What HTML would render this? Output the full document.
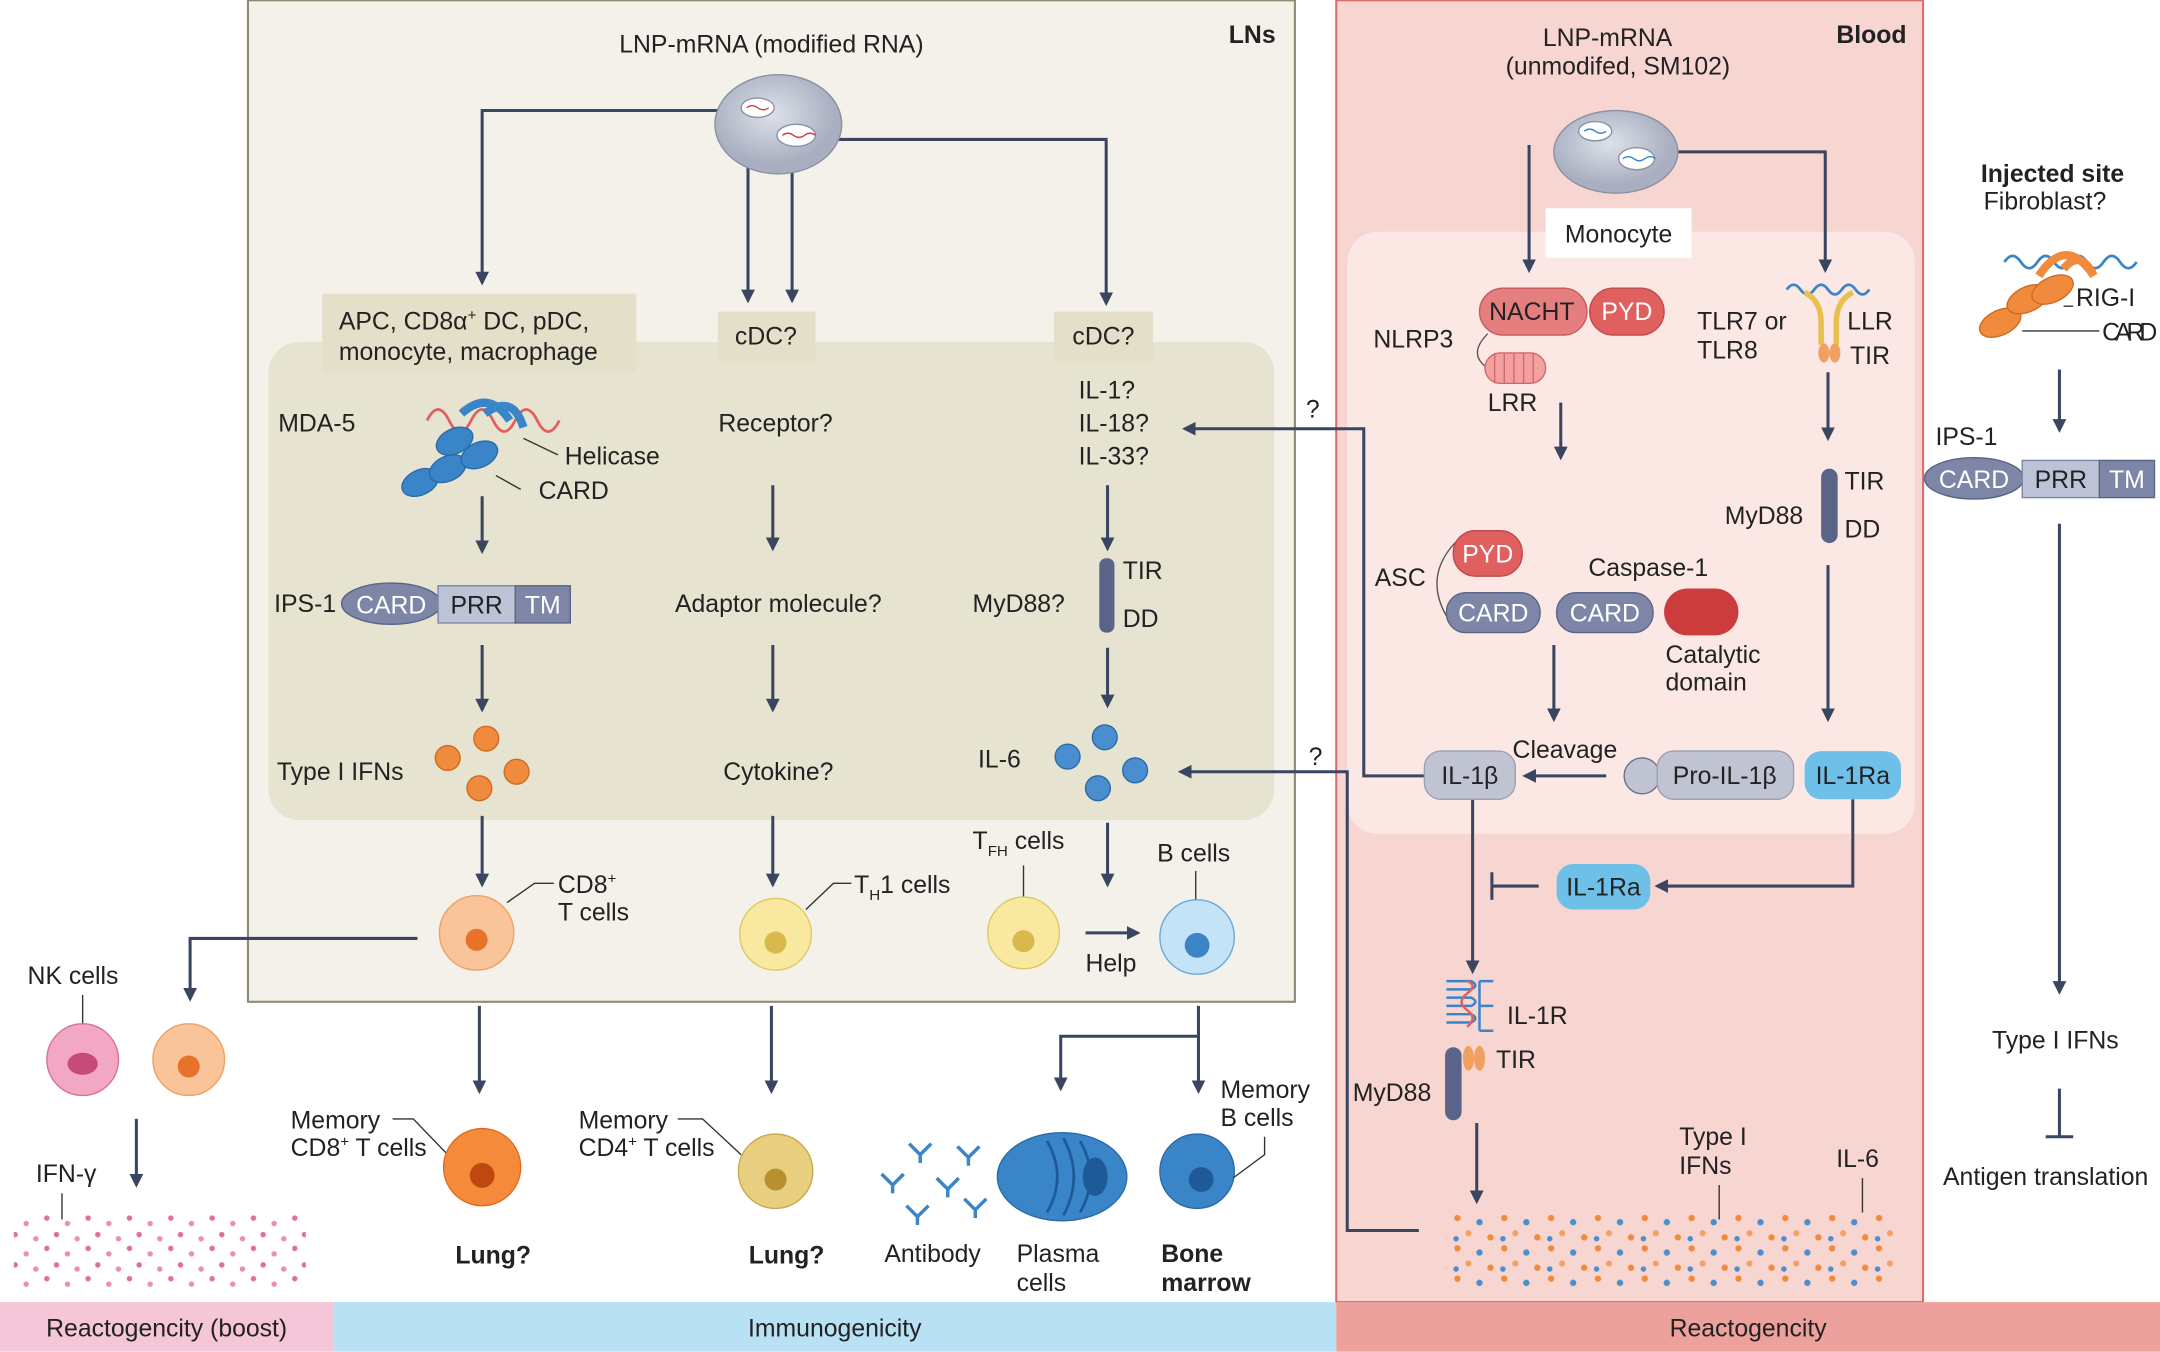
<!DOCTYPE html>
<html><head><meta charset="utf-8"><style>
html,body{margin:0;padding:0;background:#fff}
svg{display:block}
text{font-family:"Liberation Sans",sans-serif;fill:#222;font-size:18px}
.b{font-weight:bold}
.w{fill:#fff}
</style></head><body>
<svg width="2160" height="1352" viewBox="0 0 1568 981" xmlns="http://www.w3.org/2000/svg">
<defs>
<marker id="a" markerWidth="10" markerHeight="10" refX="8" refY="5" orient="auto" markerUnits="userSpaceOnUse"><path d="M0,0 L10,5 L0,10 Z" fill="#3a4560"/></marker>
<pattern id="pd" width="30" height="22" patternUnits="userSpaceOnUse"><circle cx="4" cy="4" r="2" fill="#e0709a"/><circle cx="19" cy="8" r="2" fill="#e890b0"/><circle cx="11" cy="16" r="2" fill="#e0709a"/><circle cx="26" cy="19" r="2" fill="#e890b0"/></pattern>
<pattern id="bd" width="34" height="22" patternUnits="userSpaceOnUse"><circle cx="4" cy="4" r="2.3" fill="#f08a3c"/><circle cx="20" cy="7" r="2.3" fill="#4a8ed0"/><circle cx="12" cy="15" r="2.2" fill="#f4a060"/><circle cx="28" cy="18" r="2.3" fill="#f08a3c"/><circle cx="3" cy="19" r="2" fill="#4a8ed0"/></pattern>
<radialGradient id="lnp" cx="45%" cy="40%"><stop offset="0" stop-color="#dde1ea"/><stop offset="1" stop-color="#a9afc0"/></radialGradient>
</defs>
<rect x="180" y="0" width="760" height="727" fill="#f3f1ea" stroke="#8b8a72" stroke-width="1.5"/>
<rect x="195" y="248" width="730" height="347" rx="22" fill="#e6e3d0"/>
<rect x="970" y="0" width="426" height="945" fill="#f7d5d0" stroke="#e06a6a" stroke-width="1.5"/>
<rect x="978" y="168" width="412" height="437" rx="22" fill="#fbe8e5"/>
<rect x="0" y="945" width="242" height="36" fill="#f4c6d8"/>
<rect x="242" y="945" width="728" height="36" fill="#b9e1f4"/>
<rect x="970" y="945" width="598" height="36" fill="#eda19c"/>
<text x="121" y="970" text-anchor="middle">Reactogencity (boost)</text>
<text x="606" y="970" text-anchor="middle">Immunogenicity</text>
<text x="1269" y="970" text-anchor="middle">Reactogencity</text>
<text x="926" y="31" text-anchor="end" class="b">LNs</text>
<text x="1384" y="31" text-anchor="end" class="b">Blood</text>

<text x="560" y="38" text-anchor="middle">LNP-mRNA (modified RNA)</text>
<g stroke="#3a4560" stroke-width="2.2" fill="none" marker-end="url(#a)">
<path d="M525,80 H350 V205"/>
<path d="M608,101 H803 V220"/>
<path d="M543,112 V218"/>
<path d="M575,112 V218"/>
</g>
<ellipse cx="565" cy="90" rx="46" ry="36" fill="url(#lnp)" stroke="#8890a5"/>
<ellipse cx="550" cy="78" rx="12" ry="7" fill="#fff" stroke="#8890a5"/>
<ellipse cx="578" cy="98" rx="14" ry="8" fill="#fff" stroke="#8890a5"/>
<path d="M542,78 q4,-3 8,0 t8,0" stroke="#d04040" fill="none"/><path d="M568,98 q4,-3 8,0 t8,0 t8,0" stroke="#d04040" fill="none"/>

<rect x="234" y="213" width="228" height="57" fill="#e3dfc8"/>
<text x="246" y="239">APC, CD8α<tspan font-size="11" dy="-7">+</tspan><tspan dy="7"> DC, pDC,</tspan></text>
<text x="246" y="261">monocyte, macrophage</text>
<rect x="521" y="226" width="71" height="36" fill="#e3dfc8"/><text x="556" y="250" text-anchor="middle">cDC?</text>
<rect x="765" y="226" width="72" height="36" fill="#e3dfc8"/><text x="801" y="250" text-anchor="middle">cDC?</text>

<text x="202" y="313">MDA-5</text>
<path d="M310,305 q8,-16 16,0 t16,0 t16,0 t16,0 t16,0 t16,0" stroke="#e06060" stroke-width="2" fill="none"/>
<g fill="#3a85c8" stroke="#2a6aa8">
<ellipse cx="305" cy="350" rx="14" ry="9" transform="rotate(-25 305 350)"/>
<ellipse cx="325" cy="340" rx="14" ry="9" transform="rotate(-25 325 340)"/>
<ellipse cx="330" cy="320" rx="14" ry="9" transform="rotate(-25 330 320)"/>
<ellipse cx="348" cy="330" rx="14" ry="9" transform="rotate(-25 348 330)"/>
</g>
<path d="M335,300 q20,-18 35,5 M352,300 q20,-15 28,10" stroke="#3a85c8" stroke-width="6" fill="none"/>
<path d="M380,318 L405,330 M360,345 L378,355" stroke="#333" fill="none"/>
<text x="410" y="337">Helicase</text><text x="391" y="362">CARD</text>
<text x="199" y="444">IPS-1</text>
<ellipse cx="284" cy="438" rx="36" ry="15" fill="#7d86a6" stroke="#5a6488"/>
<text x="284" y="445" text-anchor="middle" class="w">CARD</text>
<rect x="318" y="425" width="56" height="27" fill="#bcc3d6" stroke="#7d86a6"/><text x="346" y="445" text-anchor="middle">PRR</text>
<rect x="374" y="425" width="40" height="27" fill="#7d86a6" stroke="#5a6488"/><text x="394" y="445" text-anchor="middle" class="w">TM</text>
<text x="201" y="566">Type I IFNs</text>
<g fill="#f08a3c" stroke="#d06a20"><circle cx="325" cy="550" r="9"/><circle cx="353" cy="536" r="9"/><circle cx="375" cy="560" r="9"/><circle cx="348" cy="572" r="9"/></g>
<text x="405" y="648">CD8<tspan font-size="11" dy="-7">+</tspan></text><text x="405" y="668">T cells</text>
<path d="M368,655 L388,641 H402" stroke="#333" fill="none"/>

<text x="563" y="313" text-anchor="middle">Receptor?</text>
<text x="565" y="444" text-anchor="middle">Adaptor molecule?</text>
<text x="565" y="566" text-anchor="middle">Cytokine?</text>
<text x="620" y="648">T<tspan font-size="11" dy="5">H</tspan><tspan dy="-5">1 cells</tspan></text>
<path d="M585,660 L605,641 H618" stroke="#333" fill="none"/>

<text x="783" y="289">IL-1?</text><text x="783" y="313">IL-18?</text><text x="783" y="337">IL-33?</text>
<text x="706" y="444">MyD88?</text>
<rect x="798" y="405" width="11" height="54" rx="5" fill="#5a6488"/>
<text x="815" y="420">TIR</text><text x="815" y="455">DD</text>
<text x="710" y="557">IL-6</text>
<g fill="#4a8ed0" stroke="#2a6aa8"><circle cx="775" cy="549" r="9"/><circle cx="802" cy="535" r="9"/><circle cx="824" cy="559" r="9"/><circle cx="797" cy="572" r="9"/></g>
<text x="706" y="616">T<tspan font-size="11" dy="5">FH</tspan><tspan dy="-5"> cells</tspan></text>
<path d="M743,628 V655" stroke="#333"/>
<text x="840" y="625">B cells</text><path d="M868,632 V655" stroke="#333"/>
<text x="788" y="705">Help</text>

<g stroke="#3a4560" stroke-width="2.2" fill="none" marker-end="url(#a)">
<path d="M350,360 V400"/><path d="M350,468 V515"/><path d="M350,592 V642"/>
<path d="M561,352 V398"/><path d="M561,468 V515"/><path d="M561,592 V642"/>
<path d="M804,352 V398"/><path d="M804,470 V512"/><path d="M804,597 V642"/>
<path d="M788,677 H826"/>
<path d="M303,681 H138 V725"/>
<path d="M348,730 V792"/><path d="M560,730 V792"/>
<path d="M870,730 V792"/><path d="M870,752 H770 V790"/>
<path d="M99,812 V860"/>
<path d="M1110,105 V196"/><path d="M1195,110 H1325 V196"/>
<path d="M1133,292 V332"/><path d="M1327,270 V318"/><path d="M1327,410 V522"/>
<path d="M1128,468 V522"/><path d="M1166,563 H1107"/>
<path d="M1345,580 V643 H1203"/>
<path d="M1069,580 V705"/><path d="M1072,815 V872"/>
<path d="M1034,563 H990 V311 H860"/>
<path d="M1030,893 H978 V560 H857"/>
<path d="M1495,268 V312"/><path d="M1495,380 V720"/>
</g>
<g stroke="#3a4560" stroke-width="2.2"><path d="M1117,643 H1083 M1083,633 V653"/><path d="M1495,790 V825 M1485,825 H1505"/></g>
<text x="948" y="303">?</text><text x="950" y="555">?</text>

<circle cx="346" cy="677" r="27" fill="#f9c49a" stroke="#f0a060"/><circle cx="346" cy="682" r="8" fill="#e8722b"/>
<circle cx="563" cy="678" r="26" fill="#f9e9a0" stroke="#e0c860"/><circle cx="563" cy="684" r="8" fill="#d9b84c"/>
<circle cx="743" cy="677" r="26" fill="#f9e9a0" stroke="#e0c860"/><circle cx="743" cy="683" r="8" fill="#d9b84c"/>
<circle cx="869" cy="680" r="27" fill="#c5e3f7" stroke="#6aa8da"/><circle cx="869" cy="686" r="9" fill="#3d84c6"/>
<text x="20" y="714">NK cells</text><path d="M60,722 V745" stroke="#333"/>
<circle cx="60" cy="769" r="26" fill="#f2a8c4" stroke="#d87098"/><ellipse cx="60" cy="772" rx="11" ry="8" fill="#c84a7a"/>
<circle cx="137" cy="769" r="26" fill="#f9c49a" stroke="#f0a060"/><circle cx="137" cy="774" r="8" fill="#e8722b"/>
<text x="26" y="858">IFN-γ</text><path d="M45,866 V885" stroke="#333"/>
<rect x="10" y="882" width="212" height="52" fill="url(#pd)"/>
<text x="211" y="819">Memory</text><text x="211" y="839">CD8<tspan font-size="11" dy="-7">+</tspan><tspan dy="7"> T cells</tspan></text>
<path d="M285,812 H300 L325,838" stroke="#333" fill="none"/>
<circle cx="350" cy="847" r="28" fill="#f58a3a" stroke="#e06a20"/><circle cx="350" cy="853" r="9" fill="#c04810"/>
<text x="420" y="819">Memory</text><text x="420" y="839">CD4<tspan font-size="11" dy="-7">+</tspan><tspan dy="7"> T cells</tspan></text>
<path d="M492,812 H510 L538,838" stroke="#333" fill="none"/>
<circle cx="563" cy="850" r="27" fill="#e8cf80" stroke="#c8a850"/><circle cx="563" cy="856" r="8" fill="#b89030"/>
<text x="358" y="917" text-anchor="middle" class="b">Lung?</text>
<text x="571" y="917" text-anchor="middle" class="b">Lung?</text>
<g stroke="#3a85c8" stroke-width="2.5" fill="none">
<path d="M640,852 l8,8 l8,-8 M648,860 v6"/><path d="M660,830 l8,8 l8,-8 M668,838 v6"/><path d="M680,855 l8,8 l8,-8 M688,863 v6"/>
<path d="M695,832 l8,8 l8,-8 M703,840 v6"/><path d="M658,875 l8,8 l8,-8 M666,883 v6"/><path d="M700,870 l8,8 l8,-8 M708,878 v6"/>
</g>
<text x="677" y="916" text-anchor="middle">Antibody</text>
<ellipse cx="771" cy="854" rx="47" ry="32" fill="#3a85c8" stroke="#2a6aa8"/>
<path d="M760,828 q15,26 0,52 M772,826 q15,28 0,56 M784,828 q15,26 0,52" stroke="#1e5a98" fill="none" stroke-width="2"/>
<ellipse cx="795" cy="854" rx="9" ry="14" fill="#1e5a98"/>
<text x="738" y="916">Plasma</text><text x="738" y="937">cells</text>
<circle cx="869" cy="850" r="27" fill="#3a85c8" stroke="#2a6aa8"/><circle cx="872" cy="856" r="9" fill="#1e5a98"/>
<text x="886" y="797">Memory</text><text x="886" y="817">B cells</text>
<path d="M918,825 V838 L895,855" stroke="#333" fill="none"/>
<text x="843" y="916" class="b">Bone</text><text x="843" y="937" class="b">marrow</text>

<text x="1120" y="33">LNP-mRNA</text><text x="1093" y="54">(unmodifed, SM102)</text>
<ellipse cx="1173" cy="110" rx="45" ry="30" fill="url(#lnp)" stroke="#8890a5"/>
<ellipse cx="1158" cy="95" rx="12" ry="7" fill="#fff" stroke="#8890a5"/>
<ellipse cx="1188" cy="115" rx="13" ry="8" fill="#fff" stroke="#8890a5"/>
<path d="M1150,95 q4,-3 8,0 t8,0" stroke="#3a85c8" fill="none"/><path d="M1178,115 q4,-3 8,0 t8,0 t8,0" stroke="#3a85c8" fill="none"/>
<rect x="1122" y="151" width="106" height="36" fill="#fff"/><text x="1175" y="176" text-anchor="middle">Monocyte</text>
<rect x="1074" y="209" width="78" height="34" rx="17" fill="#e57e7e" stroke="#c85a5a"/><text x="1112" y="232" text-anchor="middle">NACHT</text>
<rect x="1154" y="209" width="54" height="34" rx="17" fill="#e06060" stroke="#c04a4a"/><text x="1181" y="232" text-anchor="middle" class="w">PYD</text>
<text x="997" y="252">NLRP3</text>
<path d="M1080,242 q-15,15 0,25" stroke="#555" fill="none"/>
<rect x="1078" y="256" width="44" height="22" rx="11" fill="#f4a0a0" stroke="#d06a6a"/>
<path d="M1085,256 v22 M1092,256 v22 M1099,256 v22 M1106,256 v22 M1113,256 v22" stroke="#d06a6a"/>
<text x="1080" y="298">LRR</text>
<text x="1232" y="239">TLR7 or</text><text x="1232" y="260">TLR8</text>
<path d="M1297,210 q5,-7 10,0 t10,0 t10,0 t10,0 t10,0 t10,0" stroke="#3a85c8" stroke-width="2" fill="none"/>
<path d="M1310,212 q12,6 12,22 V250 M1345,212 q-12,6 -12,22 V250" stroke="#e8c050" stroke-width="4" fill="none"/>
<ellipse cx="1324" cy="256" rx="4" ry="7" fill="#f0a060"/><ellipse cx="1332" cy="256" rx="4" ry="7" fill="#f0a060"/>
<text x="1341" y="239">LLR</text><text x="1343" y="264">TIR</text>
<text x="1252" y="380">MyD88</text>
<rect x="1322" y="340" width="12" height="54" rx="6" fill="#5a6488"/>
<text x="1339" y="355">TIR</text><text x="1339" y="390">DD</text>
<text x="998" y="425">ASC</text>
<path d="M1058,392 q-25,25 -8,55" stroke="#555" fill="none"/>
<rect x="1055" y="385" width="50" height="33" rx="16" fill="#e06060" stroke="#c04a4a"/><text x="1080" y="408" text-anchor="middle" class="w">PYD</text>
<rect x="1050" y="430" width="68" height="29" rx="14" fill="#7d86a6" stroke="#5a6488"/><text x="1084" y="451" text-anchor="middle" class="w">CARD</text>
<text x="1153" y="418">Caspase-1</text>
<rect x="1130" y="430" width="70" height="29" rx="14" fill="#7d86a6" stroke="#5a6488"/><text x="1165" y="451" text-anchor="middle" class="w">CARD</text>
<rect x="1208" y="427" width="54" height="34" rx="17" fill="#cc3c3c"/>
<text x="1209" y="481">Catalytic</text><text x="1209" y="501">domain</text>
<text x="1098" y="550">Cleavage</text>
<rect x="1034" y="545" width="66" height="35" rx="12" fill="#c0c3d2" stroke="#9aa0b5"/><text x="1067" y="569" text-anchor="middle">IL-1β</text>
<circle cx="1192" cy="563" r="13" fill="#c0c3d2" stroke="#6a7088"/>
<rect x="1203" y="545" width="99" height="35" rx="12" fill="#c0c3d2" stroke="#9aa0b5"/><text x="1252" y="569" text-anchor="middle">Pro-IL-1β</text>
<rect x="1310" y="545" width="70" height="35" rx="12" fill="#6fc0e8"/><text x="1345" y="569" text-anchor="middle">IL-1Ra</text>
<rect x="1130" y="627" width="68" height="33" rx="12" fill="#6fc0e8"/><text x="1164" y="650" text-anchor="middle">IL-1Ra</text>
<path d="M1050,712 h18 q6,3 0,6 h-18 M1050,724 h18 q6,3 0,6 h-18 M1050,736 h18 q6,3 0,6 h-18 M1074,712 v36 M1074,712 h10 M1074,730 h10 M1074,748 h10" stroke="#3a85c8" stroke-width="1.8" fill="none"/>
<path d="M1065,712 q8,3 0,9 q-8,6 0,12 q8,6 0,12" stroke="#e06060" stroke-width="1.8" fill="none"/>
<ellipse cx="1066" cy="768" rx="4" ry="9" fill="#f0a060"/><ellipse cx="1074" cy="768" rx="4" ry="9" fill="#f0a060"/>
<text x="1094" y="743">IL-1R</text><text x="1086" y="775">TIR</text>
<rect x="1049" y="760" width="12" height="53" rx="6" fill="#5a6488"/>
<text x="982" y="799">MyD88</text>
<rect x="1050" y="880" width="325" height="55" fill="url(#bd)"/>
<text x="1219" y="831">Type I</text><text x="1219" y="852">IFNs</text><path d="M1248,860 V885" stroke="#333"/>
<text x="1333" y="847">IL-6</text><path d="M1352,855 V880" stroke="#333"/>

<text x="1438" y="132" class="b">Injected site</text><text x="1440" y="152">Fibroblast?</text>
<path d="M1455,190 q6,-9 12,0 t12,0 t12,0 t12,0 t12,0 t12,0 t12,0 t12,0" stroke="#3a85c8" stroke-width="2" fill="none"/>
<g fill="#f08a3c" stroke="#d06a20">
<ellipse cx="1452" cy="234" rx="16" ry="9" transform="rotate(-25 1452 234)"/>
<ellipse cx="1472" cy="217" rx="16" ry="9" transform="rotate(-25 1472 217)"/>
<ellipse cx="1490" cy="210" rx="16" ry="9" transform="rotate(-25 1490 210)"/>
</g>
<path d="M1480,200 q20,-30 40,0 M1498,195 q12,-15 22,5" stroke="#f08a3c" stroke-width="6" fill="none"/>
<path d="M1498,222 H1505 M1468,240 H1524" stroke="#333" fill="none"/>
<text x="1507" y="222">RIG-I</text><text x="1526" y="247" textLength="40">CARD</text>
<text x="1405" y="323">IPS-1</text>
<ellipse cx="1433" cy="347" rx="36" ry="15" fill="#7d86a6" stroke="#5a6488"/><text x="1433" y="354" text-anchor="middle" class="w">CARD</text>
<rect x="1468" y="334" width="56" height="27" fill="#bcc3d6" stroke="#7d86a6"/><text x="1496" y="354" text-anchor="middle">PRR</text>
<rect x="1524" y="334" width="40" height="27" fill="#7d86a6" stroke="#5a6488"/><text x="1544" y="354" text-anchor="middle" class="w">TM</text>
<text x="1492" y="761" text-anchor="middle">Type I IFNs</text>
<text x="1485" y="860" text-anchor="middle">Antigen translation</text>
</svg>
</body></html>
